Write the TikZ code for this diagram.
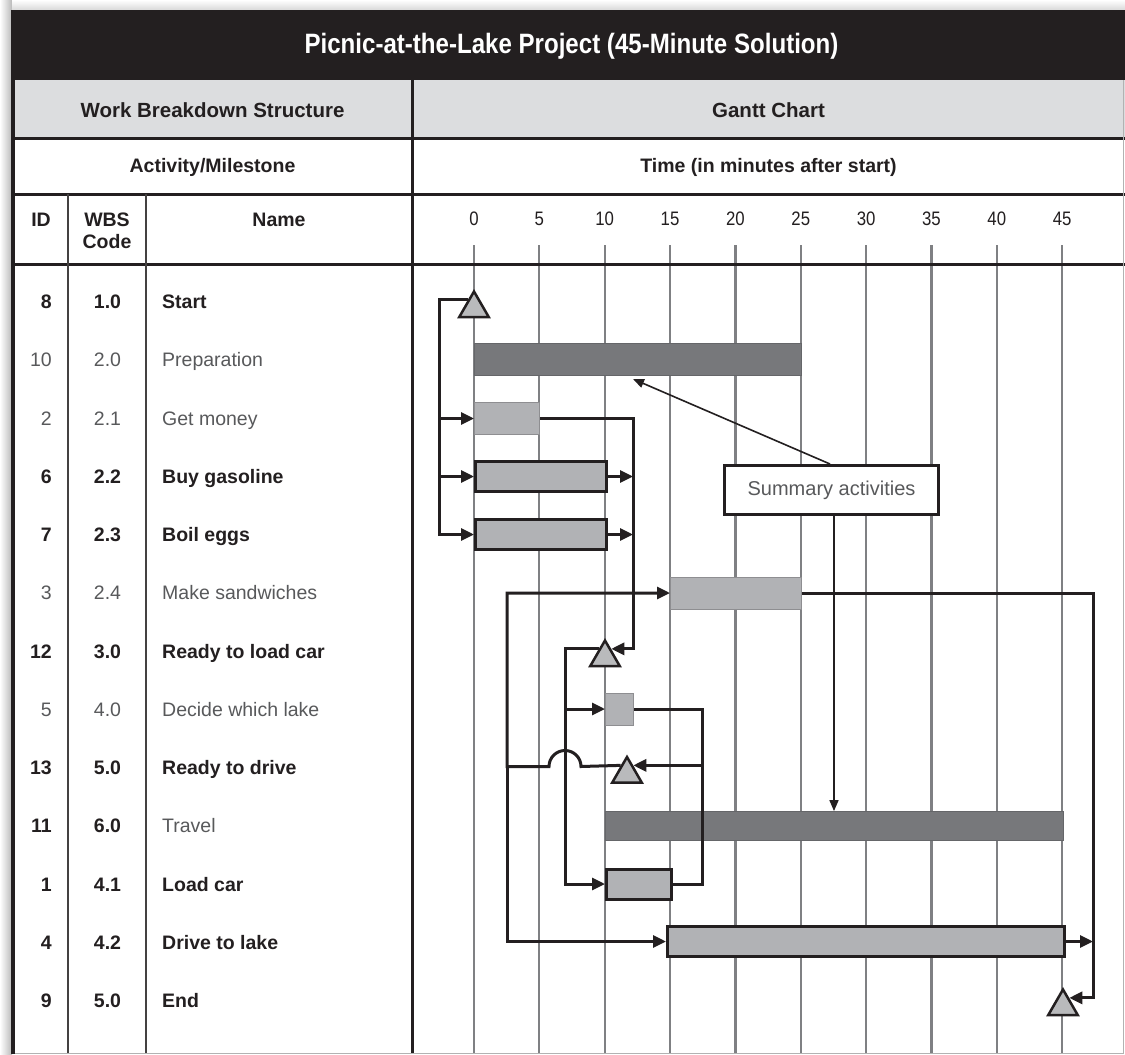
\documentclass[tikz,border=0pt]{standalone}
\usepackage{fontspec}
\setmainfont{Liberation Sans}
\newfontfamily\condfont{Liberation Sans}[FakeStretch=0.86]
\usetikzlibrary{arrows.meta,shapes.geometric,calc}
\definecolor{inkblack}{HTML}{231F20}
\definecolor{txtgray}{HTML}{58595B}
\definecolor{hdrgray}{HTML}{DCDDDF}
\definecolor{sumgray}{HTML}{77787B}
\definecolor{taskgray}{HTML}{B1B2B5}
\definecolor{gridgray}{HTML}{7F8083}
\tikzset{
  gridline/.style={draw=gridgray, line width=2.2pt},
  frameline/.style={draw=inkblack, line width=3pt},
  colline/.style={draw=inkblack!85, line width=2pt},
  sumbar/.style={rectangle, fill=sumgray, draw=sumgray!85!black, line width=0.8pt, minimum height=32pt, inner sep=0pt, anchor=west},
  taskbar/.style={rectangle, fill=taskgray, draw=taskgray!80!black, line width=1pt, minimum height=32pt, inner sep=0pt, anchor=west},
  critbar/.style={rectangle, fill=taskgray, draw=inkblack, line width=3pt, minimum height=30pt, inner sep=0pt, anchor=west},
  milestone/.style={regular polygon, regular polygon sides=3, fill=taskgray!90, draw=inkblack, line width=2.5pt, minimum size=34pt, inner sep=0pt},
  conn/.style={draw=inkblack, line width=3pt, -{Triangle[length=13pt,width=12pt]}},
  link/.style={draw=inkblack, line width=3pt},
  note/.style={draw=inkblack, line width=1.6pt, -{Triangle[length=11pt,width=9pt]}},
  hdr/.style={font=\fontsize{20.5}{24}\selectfont\bfseries, text=inkblack, anchor=base, inner sep=0pt},
  sub/.style={font=\fontsize{19.5}{22}\selectfont\bfseries, text=inkblack, anchor=base, inner sep=0pt},
  tb/.style={font=\fontsize{19.5}{22}\selectfont\bfseries, text=inkblack, inner sep=0pt},
  tr/.style={font=\fontsize{19.5}{22}\selectfont, text=txtgray, inner sep=0pt},
  ticklbl/.style={font=\condfont\fontsize{19.5}{22}\selectfont, text=inkblack, anchor=base, inner sep=0pt},
}
\begin{document}
\begin{tikzpicture}[x=1pt,y=-1pt]
\useasboundingbox (0,0) rectangle (1125,1055);
\fill[white] (0,0) rectangle (1125,1055);
\shade[left color=white, right color=gray!55] (0,0) rectangle (12,1055);
\shade[top color=white, bottom color=gray!30] (12,0) rectangle (1125,10);
% bands
\fill[inkblack] (12,10) rectangle (1125,80);
\fill[hdrgray] (12,80) rectangle (1125,138);
% grid
\foreach \t in {0,5,...,45} {
  \draw[gridline] ({474+13.07*\t},245) -- ({474+13.07*\t},1053);
  \node[ticklbl] (tick\t) at ({474+13.07*\t},225) {\t};
}
% table lines
\draw[frameline] (12,138) -- (1125,138);
\draw[frameline] (12,194) -- (1125,194);
\draw[frameline] (12,264.5) -- (1125,264.5);
\draw[frameline] (412,80) -- (412,1053);
\draw[colline] (68,194) -- (68,1053);
\draw[colline] (146,194) -- (146,1053);
\draw[draw=gray!60, line width=1pt] (12,1053.5) -- (1123.5,1053.5) -- (1123.5,80);
\draw[draw=inkblack, line width=3.5pt] (13,10) -- (13,1054);
% header texts
\node[font=\condfont\fontsize{28}{30}\selectfont\bfseries, text=white, anchor=base, inner sep=0pt] (title) at (571.5,53) {Picnic-at-the-Lake Project (45-Minute Solution)};
\node[hdr] (wbshdr) at (212.5,117) {Work Breakdown Structure};
\node[hdr] (gantthdr) at (768.5,117) {Gantt Chart};
\node[sub] (acthdr) at (212.5,172) {Activity/Milestone};
\node[sub] (timehdr) at (768.5,172) {Time (in minutes after start)};
\node[sub] (idhdr) at (41,226) {ID};
\node[sub] (wbscodehdr) at (107,226) {WBS};
\node[sub] (codehdr) at (107,248) {Code};
\node[sub] (namehdr) at (279,226) {Name};
% rows
\foreach \id/\wbs/\nm/\sa/\sb [count=\i from 0] in {
  8/1.0/Start/tb/tb,
  10/2.0/Preparation/tr/tr,
  2/2.1/Get money/tr/tr,
  6/2.2/Buy gasoline/tb/tb,
  7/2.3/Boil eggs/tb/tb,
  3/2.4/Make sandwiches/tr/tr,
  12/3.0/Ready to load car/tb/tb,
  5/4.0/Decide which lake/tr/tr,
  13/5.0/Ready to drive/tb/tb,
  11/6.0/Travel/tb/tr,
  1/4.1/Load car/tb/tb,
  4/4.2/Drive to lake/tb/tb,
  9/5.0/End/tb/tb} {
  \node[\sa, anchor=base east] (id\i) at (52,{308.5+58.25*\i}) {\id};
  \node[\sa, anchor=base] (wbs\i) at (107.5,{308.5+58.25*\i}) {\wbs};
  \node[\sb, anchor=base west] (nm\i) at (162,{308.5+58.25*\i}) {\nm};
}
% bars
\node[sumbar, minimum width=327pt] (prep) at (474,359) {};
\node[taskbar, minimum width=65pt] (money) at (474,418.5) {};
\node[critbar, minimum width=131pt] (gas) at (474,476.5) {};
\node[critbar, minimum width=131pt] (eggs) at (474,534.5) {};
\node[taskbar, minimum width=131pt] (sand) at (670,593) {};
\node[taskbar, minimum width=28pt] (decide) at (605,709) {};
\node[sumbar, minimum width=458pt, minimum height=29pt] (travel) at (605,826) {};
\node[critbar, minimum width=65pt] (loadcar) at (605,884) {};
\node[critbar, minimum width=397pt] (drive) at (666,941.5) {};
% milestones
\node[milestone] (start) at (474,308.5) {};
\node[milestone] (ready1) at (605,657.5) {};
\node[milestone] (ready2) at (627,774) {};
\node[milestone] (finish) at (1063,1006.5) {};
% junction coordinates
\coordinate (jA) at (439,534.5);
\coordinate (jB) at (633,418.5);
\coordinate (jC) at (565,884);
\coordinate (jD) at (702,709);
\coordinate (jE) at (507,766.5);
\coordinate (jF) at (1093,593);
% connectors
\draw[conn] (start.126) -| (jA) -- (eggs.west);
\draw[conn] (money.west -| jA) -- (money.west);
\draw[conn] (gas.west -| jA) -- (gas.west);
\draw[conn] (money.east) -- (jB) |- (ready1.54);
\draw[conn] (gas.east) -- (gas.east -| jB);
\draw[conn] (eggs.east) -- (eggs.east -| jB);
\draw[conn] (ready1.126) -| (jC) -- (loadcar.west);
\draw[conn] (decide.west -| jC) -- (decide.west);
\draw[link] (decide.east) -- (jD) |- (loadcar.east);
\draw[conn] (jD |- ready2.54) -- (ready2.54);
\draw[conn] (ready2.126) -- (581,766.5) arc[start angle=0, end angle=-180, radius=16] -- (jE) |- (sand.west);
\draw[conn] (jE) |- (drive.west);
\draw[conn] (sand.east) -- (jF) |- (finish.54);
\draw[conn] (drive.east) -- (drive.east -| jF);
% summary note
\node[draw=inkblack, line width=3pt, fill=white, minimum width=214pt, minimum height=49pt, inner sep=0pt, font=\fontsize{20}{22}\selectfont, text=txtgray] (summary) at (831.5,490) {Summary activities};
\coordinate (prepnote) at (633,379);
\draw[note] ($(summary.north)+(-1.5,0)$) -- (prepnote);
\draw[note] ($(summary.south)+(2.5,0)$) -- ($(summary.south |- travel.north)+(2.5,0)$);
\end{tikzpicture}
\end{document}
